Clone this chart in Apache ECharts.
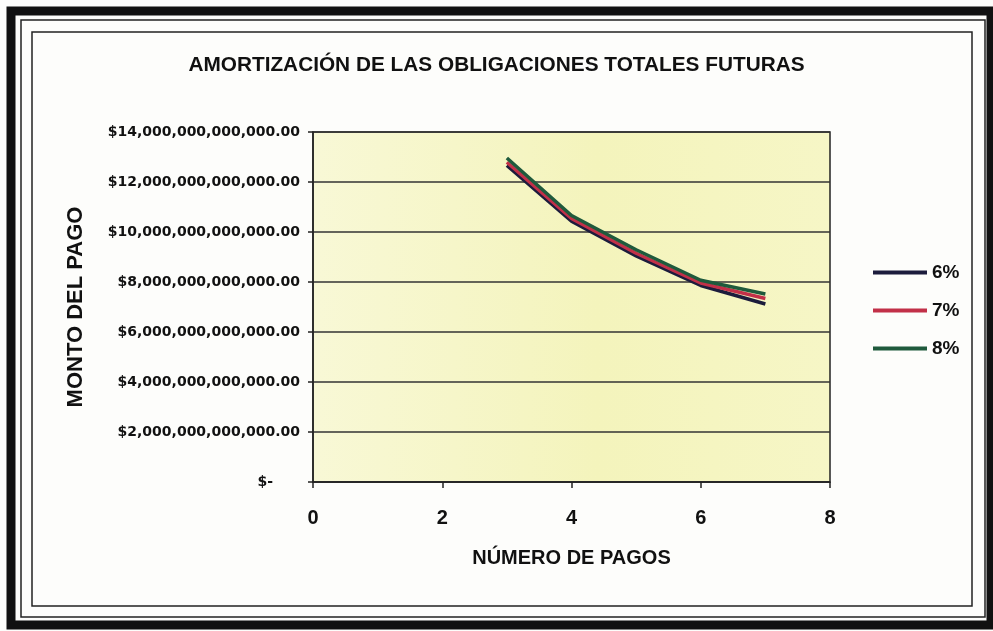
<!DOCTYPE html>
<html>
<head>
<meta charset="utf-8">
<script src="https://cdn.jsdelivr.net/npm/echarts@6/dist/echarts.min.js"></script>
<style>
  html, body { margin: 0; padding: 0; background: #fdfdfb; }
  #chart { width: 993px; height: 631px; }
</style>
</head>
<body>
<div id="chart"></div>
<script>
// numero de pagos
const pagos = [3, 4, 5, 6, 7];
// monto del pago por tasa
const tasa6 = [12.66e12, 10.43e12, 9.04e12, 7.86e12, 7.12e12];
const tasa7 = [12.79e12, 10.54e12, 9.15e12, 7.96e12, 7.34e12];
const tasa8 = [12.96e12, 10.66e12, 9.29e12, 8.07e12, 7.52e12];
const nombres = ["6%", "7%", "8%"];
const colores = ["#1c1c3c", "#c23048", "#1f5a3c"];

function pares(vals) {
  return pagos.map((p, i) => [p, vals[i]]);
}

const myChart = echarts.init(document.getElementById("chart"));
const option = {
  backgroundColor: "#fdfdfb",
  animation: false,
  title: {
    text: "AMORTIZACIÓN DE LAS OBLIGACIONES TOTALES FUTURAS",
    left: "center",
    top: 50,
    textStyle: { fontFamily: "Liberation Sans", fontWeight: "bold", fontSize: 20.8, color: "#111" }
  },
  legend: {
    orient: "vertical",
    left: 868,
    top: 258,
    itemGap: 19,
    itemWidth: 54,
    itemHeight: 4,
    icon: "rect",
    data: nombres,
    textStyle: { fontFamily: "Liberation Sans", fontWeight: "bold", fontSize: 19, color: "#111" }
  },
  grid: {
    left: 313,
    right: 163,
    top: 132,
    bottom: 149,
    show: true,
    borderColor: "#222",
    borderWidth: 1.5,
    backgroundColor: new echarts.graphic.LinearGradient(0, 0, 1, 0, [
      { offset: 0, color: "#f8f8d6" },
      { offset: 0.55, color: "#f4f4bc" },
      { offset: 1, color: "#f6f6c6" }
    ])
  },
  xAxis: {
    type: "value",
    min: 0,
    max: 8,
    interval: 2,
    name: "NÚMERO DE PAGOS",
    nameLocation: "middle",
    nameGap: 66,
    nameTextStyle: { fontFamily: "Liberation Sans", fontWeight: "bold", fontSize: 20, color: "#111" },
    axisLine: { lineStyle: { color: "#222", width: 1.5 } },
    axisTick: { length: 6, lineStyle: { color: "#222", width: 1.5 } },
    axisLabel: { margin: 26, fontFamily: "Liberation Sans", fontWeight: "bold", fontSize: 20, color: "#111" },
    splitLine: { show: false }
  },
  yAxis: {
    type: "value",
    min: 0,
    max: 14e12,
    interval: 2e12,
    name: "MONTO DEL PAGO",
    nameLocation: "middle",
    nameRotate: 90,
    nameGap: 226,
    nameTextStyle: { fontFamily: "Liberation Sans", fontWeight: "bold", fontSize: 22, color: "#111" },
    axisLine: { show: true, lineStyle: { color: "#222", width: 1.5 } },
    axisTick: { show: true, length: 5, lineStyle: { color: "#222", width: 1.5 } },
    axisLabel: {
      margin: 13,
      fontFamily: "DejaVu Sans",
      fontWeight: "bold",
      fontSize: 14,
      color: "#111",
      formatter: function (v) {
        if (v === 0) return "{z|$-}";
        return "$" + v.toLocaleString("en-US", { minimumFractionDigits: 2, maximumFractionDigits: 2 });
      },
      rich: {
        z: { fontFamily: "DejaVu Sans", fontWeight: "bold", fontSize: 14, color: "#111", padding: [0, 27, 0, 0] }
      }
    },
    splitLine: { show: true, lineStyle: { color: "#333", width: 1.5 } }
  },
  series: [
    { name: nombres[0], type: "line", data: pares(tasa6), showSymbol: false, lineStyle: { width: 3.5, color: colores[0] }, itemStyle: { color: colores[0] } },
    { name: nombres[1], type: "line", data: pares(tasa7), showSymbol: false, lineStyle: { width: 3.5, color: colores[1] }, itemStyle: { color: colores[1] } },
    { name: nombres[2], type: "line", data: pares(tasa8), showSymbol: false, lineStyle: { width: 3.5, color: colores[2] }, itemStyle: { color: colores[2] } }
  ],
  graphic: [
    // marco exterior del recuadro escaneado
    { type: "rect", silent: true, z: 100, shape: { x: 11, y: 11, width: 980, height: 614 }, style: { fill: null, stroke: "#111", lineWidth: 9 } },
    { type: "rect", silent: true, z: 100, shape: { x: 21, y: 20, width: 964, height: 597 }, style: { fill: null, stroke: "#222", lineWidth: 1.5 } },
    { type: "rect", silent: true, z: 100, shape: { x: 32, y: 32, width: 940, height: 574 }, style: { fill: null, stroke: "#222", lineWidth: 1.5 } }
  ]
};
myChart.setOption(option);
window.addEventListener("resize", function () {
  myChart.resize();
});
</script>
</body>
</html>
